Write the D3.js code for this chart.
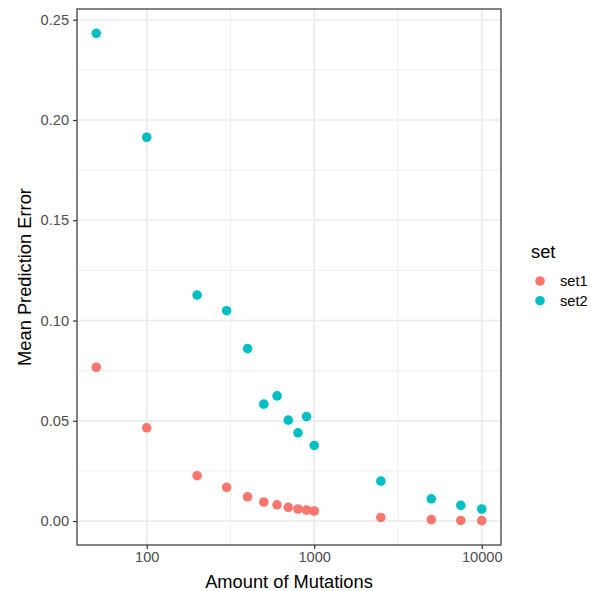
<!DOCTYPE html>
<html>
<head>
<meta charset="utf-8">
<script src="https://cdn.jsdelivr.net/npm/d3@7"></script>
<style>
  body { margin: 0; background: #fff; }
  text { font-family: "Liberation Sans", Arial, sans-serif; }
</style>
</head>
<body>
<div id="chart"></div>
<script>
// data
const mutations = [50, 100, 200, 300, 400, 500, 600, 700, 800, 900, 1000, 2500, 5000, 7500, 10000];
const set1 = [0.0767, 0.0465, 0.0226, 0.0168, 0.0121, 0.0095, 0.0081, 0.0068, 0.0060, 0.0055, 0.0050, 0.0018, 0.0007, 0.0003, 0.0002];
const set2 = [0.2432, 0.1914, 0.1127, 0.1049, 0.0860, 0.0583, 0.0624, 0.0503, 0.0440, 0.0521, 0.0377, 0.0199, 0.0111, 0.0078, 0.0060];
const setNames = ["set1", "set2"];
const setColors = ["#F8766D", "#00BFC4"];
const xTicks = [100, 1000, 10000];
const yTicks = [0, 0.05, 0.10, 0.15, 0.20, 0.25];

const width = 591, height = 591;
const margin = {left: 77, right: 90, top: 9, bottom: 46};

const svg = d3.select("#chart").append("svg")
  .attr("width", width)
  .attr("height", height);

// build long table
const points = [];
setNames.forEach((s, k) => {
  const vals = k === 0 ? set1 : set2;
  mutations.forEach((m, i) => points.push({set: s, x: m, y: vals[i]}));
});

// ggplot style 5% expansion
const lx = d3.extent(mutations).map(Math.log10);
const dx = (lx[1] - lx[0]) * 0.05;
const x = d3.scaleLog()
  .domain([Math.pow(10, lx[0] - dx), Math.pow(10, lx[1] + dx)])
  .range([margin.left, width - margin.right]);

const ye = d3.extent(points, d => d.y);
const dy = (ye[1] - ye[0]) * 0.05;
const y = d3.scaleLinear()
  .domain([ye[0] - dy, ye[1] + dy])
  .range([height - margin.bottom, margin.top]);

const color = d3.scaleOrdinal().domain(setNames).range(setColors);

const pl = margin.left, pr = width - margin.right, pt = margin.top, pb = height - margin.bottom;

// minor grid
const xMinor = [Math.pow(10, 2.5), Math.pow(10, 3.5)];
const yMinor = [0.025, 0.075, 0.125, 0.175, 0.225];
svg.append("g").selectAll("line").data(xMinor).join("line")
  .attr("x1", d => x(d)).attr("x2", d => x(d))
  .attr("y1", pt).attr("y2", pb)
  .attr("stroke", "#EBEBEB").attr("stroke-width", 0.9);
svg.append("g").selectAll("line").data(yMinor).join("line")
  .attr("x1", pl).attr("x2", pr)
  .attr("y1", d => y(d)).attr("y2", d => y(d))
  .attr("stroke", "#EBEBEB").attr("stroke-width", 0.9);

// major grid
svg.append("g").selectAll("line").data(xTicks).join("line")
  .attr("x1", d => x(d)).attr("x2", d => x(d))
  .attr("y1", pt).attr("y2", pb)
  .attr("stroke", "#EBEBEB").attr("stroke-width", 1.7);
svg.append("g").selectAll("line").data(yTicks).join("line")
  .attr("x1", pl).attr("x2", pr)
  .attr("y1", d => y(d)).attr("y2", d => y(d))
  .attr("stroke", "#EBEBEB").attr("stroke-width", 1.7);

// points
svg.append("g").selectAll("circle").data(points).join("circle")
  .attr("cx", d => x(d.x))
  .attr("cy", d => y(d.y))
  .attr("r", 4.8)
  .attr("fill", d => color(d.set));

// panel border
svg.append("rect")
  .attr("x", pl).attr("y", pt)
  .attr("width", pr - pl).attr("height", pb - pt)
  .attr("fill", "none").attr("stroke", "#333333").attr("stroke-width", 1.2);

// axes
const xAxis = svg.append("g")
  .attr("transform", `translate(0,${pb})`)
  .call(d3.axisBottom(x).tickValues(xTicks).tickFormat(d3.format("d")).tickSize(4).tickPadding(3));
const yAxis = svg.append("g")
  .attr("transform", `translate(${pl},0)`)
  .call(d3.axisLeft(y).tickValues(yTicks).tickFormat(d3.format(".2f")).tickSize(4).tickPadding(4));
[xAxis, yAxis].forEach(g => {
  g.select(".domain").remove();
  g.selectAll(".tick line").attr("stroke", "#333333").attr("stroke-width", 1.2);
  g.selectAll(".tick text").attr("fill", "#4D4D4D")
    .style("font-size", "14.6px")
    .style("font-family", "'Liberation Sans', Arial, sans-serif");
});

// axis titles
svg.append("text")
  .attr("x", (pl + pr) / 2).attr("y", 588)
  .attr("text-anchor", "middle")
  .style("font-size", "18.3px")
  .text("Amount of Mutations");
svg.append("text")
  .attr("transform", `translate(31,${(pt + pb) / 2}) rotate(-90)`)
  .attr("text-anchor", "middle")
  .style("font-size", "18.3px")
  .text("Mean Prediction Error");

// legend
const legend = svg.append("g");
legend.append("text")
  .attr("x", 531).attr("y", 258)
  .style("font-size", "18.3px")
  .text("set");
setNames.forEach((s, i) => {
  legend.append("circle")
    .attr("cx", 540).attr("cy", 281 + i * 19.7)
    .attr("r", 4.8).attr("fill", color(s));
  legend.append("text")
    .attr("x", 560).attr("y", 286 + i * 19.7)
    .style("font-size", "14.6px")
    .text(s);
});
</script>
</body>
</html>
